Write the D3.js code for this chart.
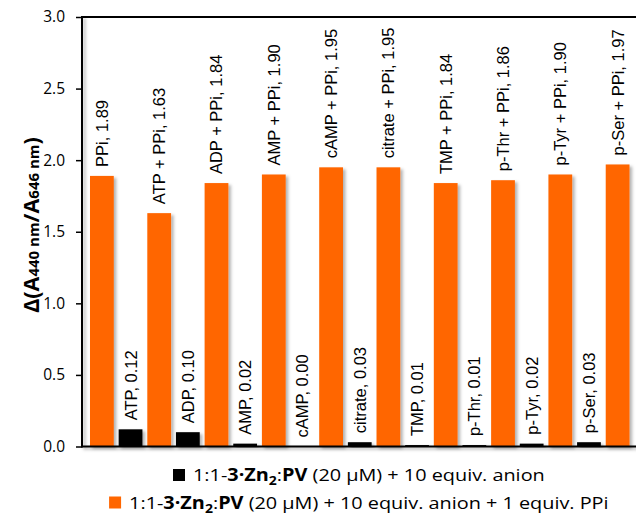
<!DOCTYPE html>
<html><head><meta charset="utf-8">
<script src="https://cdn.jsdelivr.net/npm/d3@7"></script>
<style>html,body{margin:0;padding:0;background:#fff;overflow:hidden}</style>
</head><body>
<svg id="c" width="636" height="514"></svg>
<script>
const categories = ["PPi","ATP","ADP","AMP","cAMP","citrate","TMP","p-Thr","p-Tyr","p-Ser"];
const anionOnly = [null,0.12,0.10,0.02,0.00,0.03,0.01,0.01,0.02,0.03];
const anionPlusPPi = [1.89,1.63,1.84,1.90,1.95,1.95,1.84,1.86,1.90,1.97];
const yTicks = [0,0.5,1.0,1.5,2.0,2.5,3.0];
const seriesColors = {black:"#000000", orange:"#FF6600"};

const bars = [];
categories.forEach((c,i)=>{
  if (anionOnly[i] !== null) bars.push({key:c+"-a", s:"black", v:anionOnly[i], label:`${c}, ${anionOnly[i].toFixed(2)}`});
  bars.push({key:c+"-p", s:"orange", v:anionPlusPPi[i], label: i===0 ? `${c}, ${anionPlusPPi[i].toFixed(2)}` : `${c} + PPi, ${anionPlusPPi[i].toFixed(2)}`});
});

const svg = d3.select("#c");
const L=82, R=637.5, T=17, B=446.5;
const x = d3.scaleBand().domain(bars.map(d=>d.key)).range([L,R]).paddingInner(0.17).paddingOuter(0.279);
const y = d3.scaleLinear().domain([0,3]).range([B,T]);

const defs = svg.append("defs");
const f = defs.append("filter").attr("id","sh").attr("x","-20%").attr("y","-20%").attr("width","150%").attr("height","150%");
f.append("feDropShadow").attr("dx",2.5).attr("dy",2).attr("stdDeviation",1.6).attr("flood-color","#000").attr("flood-opacity",0.3);

// bars
svg.append("g").selectAll("rect").data(bars).join("rect")
  .attr("x",d=>x(d.key)).attr("width",x.bandwidth())
  .attr("y",d=>y(d.v)).attr("height",d=>Math.max(0,y(0)-y(d.v)))
  .attr("fill",d=>seriesColors[d.s]).attr("filter","url(#sh)");

// axes
const ax = d3.axisLeft(y).tickValues(yTicks).tickFormat(d3.format(".1f")).tickSize(6).tickPadding(11);
const gA = svg.append("g").attr("transform",`translate(${L},0)`).call(ax);
gA.select(".domain").remove();
gA.selectAll(".tick line").attr("stroke","#000").attr("stroke-width",1.5);
gA.selectAll(".tick text").attr("font-family","'Open Sans',sans-serif").attr("font-size","15.5px").attr("fill","#000");

const axG = svg.append("g").attr("filter","url(#sh)");
axG.append("line").attr("x1",L).attr("x2",636).attr("y1",y(0)).attr("y2",y(0)).attr("stroke","#000").attr("stroke-width",2);
axG.append("line").attr("x1",L).attr("x2",L).attr("y1",y(3)-1).attr("y2",y(0)+1).attr("stroke","#000").attr("stroke-width",2);
svg.append("line").attr("x1",L-1).attr("x2",636).attr("y1",y(3)).attr("y2",y(3)).attr("stroke","#000").attr("stroke-width",2);

// bar labels
svg.append("g").selectAll("text").data(bars).join("text")
  .attr("transform",d=>`translate(${x(d.key)+x.bandwidth()/2+6},${y(d.v)-9}) rotate(-90)`)
  .attr("font-family","'Liberation Sans',Arial,sans-serif").attr("font-size","16.5px").attr("fill","#000")
  .text(d=>d.label);

// y title
const yt = svg.append("text").attr("transform","translate(38.5,225) rotate(-90)")
  .attr("text-anchor","middle").attr("font-family","'Open Sans',sans-serif").attr("font-weight","bold").attr("fill","#000");
yt.append("tspan").attr("font-size","21.5px").text("Δ(A");
yt.append("tspan").attr("font-size","15px").text("440 nm");
yt.append("tspan").attr("font-size","21.5px").text("/A");
yt.append("tspan").attr("font-size","15px").text("646 nm");
yt.append("tspan").attr("font-size","21.5px").text(")");

// legend
const legendLines = [
  {s:"black", rest:" (20 µM) + 10 equiv. anion", y:481},
  {s:"orange", rest:" (20 µM) + 10 equiv. anion + 1 equiv. PPi", y:508.5}
];
const cx = (L+636)/2;
let sx = null;
legendLines.forEach((l,k)=>{
  const g = svg.append("g");
  const t = g.append("text").attr("x",0).attr("y",0).attr("font-family","'Open Sans',sans-serif").attr("font-size","17px").attr("fill","#000");
  t.append("tspan").text("1:1-");
  t.append("tspan").attr("font-weight","bold").text("3·Zn");
  t.append("tspan").attr("font-weight","bold").attr("font-size","12px").attr("dy",4).text("2");
  t.append("tspan").attr("dy",-4).text(":");
  t.append("tspan").attr("font-weight","bold").text("PV");
  t.append("tspan").text(l.rest);
  const w = t.node().getComputedTextLength();
  if (sx === null) sx = 352 / w;
  const sq = 12, gap = 8;
  const total = sq + gap + w*sx;
  const x0 = cx - total/2;
  g.append("rect").attr("x",x0).attr("y",l.y-12).attr("width",sq).attr("height",sq).attr("fill",seriesColors[l.s]);
  t.attr("transform",`translate(${x0+sq+gap},${l.y}) scale(${sx},1)`);
});
</script>
</body></html>
